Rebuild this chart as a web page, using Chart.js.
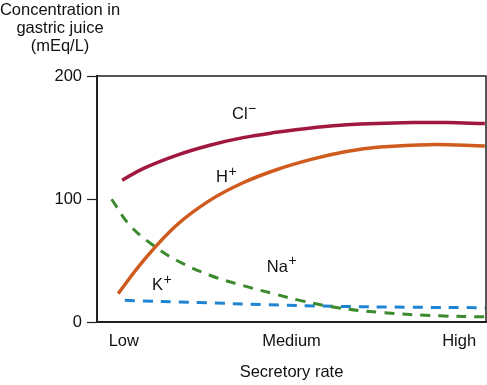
<!DOCTYPE html>
<html>
<head>
<meta charset="utf-8">
<script src="https://cdn.jsdelivr.net/npm/chart.js@4.4.0/dist/chart.umd.min.js"></script>
<style>
  html, body { margin: 0; padding: 0; background: #fff; }
</style>
</head>
<body>
<canvas id="ionChart" width="487" height="385"></canvas>
<script>
const xTickValues = [1, 2, 3];
const xTickLabels = ['Low', 'Medium', 'High'];
const yTickValues = [0, 100, 200];
const yTitleLines = ['Concentration in', 'gastric juice', '(mEq/L)'];
const xTitle = 'Secretory rate';

// series (x: 1 = Low, 2 = Medium, 3 = High)
const clX = [0.99, 1.115, 1.314, 1.513, 1.711, 1.91, 2.129, 2.328, 2.725, 2.924, 3.153];
const clY = [115.2, 124.7, 135.5, 143.7, 149.9, 154.2, 158.0, 160.4, 162.2, 162.1, 161.4];

const hX = [0.966, 1.115, 1.314, 1.513, 1.711, 1.91, 2.129, 2.328, 2.527, 2.825, 3.153];
const hY = [23.1, 49.5, 78.6, 98.9, 113.2, 123.8, 132.6, 138.6, 142.2, 144.2, 143.1];

const naX = [0.927, 1.036, 1.175, 1.314, 1.513, 1.711, 1.91, 2.049, 2.248, 2.527, 2.884, 3.158];
const naY = [99.8, 78.6, 62.4, 50.2, 38.0, 29.6, 22.4, 17.6, 12.2, 7.8, 5.0, 4.2];

const kX = [1.006, 1.453, 1.851, 2.248, 2.7, 3.158];
const kY = [17.6, 15.8, 14.1, 12.8, 12.0, 11.6];

// curve labels
const ionNames = ['Cl', 'H', 'Na', 'K'];
const ionCharges = ['\u2212', '+', '+', '+'];
const ionLabelX = [1.716, 1.61, 1.94, 1.225];
const ionLabelY = [168.5, 117.4, 44.7, 29.8];

const FRAME = '#231f20';
const TEXT = '#111';
const FONT = { family: '"Liberation Sans", Arial, sans-serif', size: 16.5 };

function toPoints(xs, ys) {
  return xs.map((x, i) => ({ x, y: ys[i] }));
}

const annotate = {
  id: 'annotate',
  afterDraw(chart) {
    const { ctx, chartArea, scales } = chart;
    ctx.save();

    // top and right edges of the frame
    ctx.strokeStyle = FRAME;
    ctx.lineWidth = 1.5;
    ctx.beginPath();
    ctx.moveTo(chartArea.left, chartArea.top);
    ctx.lineTo(chartArea.right, chartArea.top);
    ctx.lineTo(chartArea.right, chartArea.bottom);
    ctx.stroke();

    // y title
    ctx.fillStyle = TEXT;
    ctx.textAlign = 'center';
    ctx.textBaseline = 'alphabetic';
    ctx.font = `${FONT.size}px ${FONT.family}`;
    yTitleLines.forEach((line, i) => {
      ctx.fillText(line, 60, 14.5 + i * 18);
    });

    // ion labels with superscript charge
    ionNames.forEach((name, i) => {
      const cx = scales.x.getPixelForValue(ionLabelX[i]);
      const cy = scales.y.getPixelForValue(ionLabelY[i]);
      ctx.font = `${FONT.size}px ${FONT.family}`;
      const baseW = ctx.measureText(name).width;
      ctx.font = `14px ${FONT.family}`;
      const supW = ctx.measureText(ionCharges[i]).width;
      const left = cx - (baseW + supW) / 2;
      ctx.textAlign = 'left';
      ctx.textBaseline = 'middle';
      ctx.font = `${FONT.size}px ${FONT.family}`;
      ctx.fillText(name, left, cy);
      ctx.font = `14px ${FONT.family}`;
      ctx.fillText(ionCharges[i], left + baseW + 0.5, cy - 5.5);
    });

    ctx.restore();
  }
};

const ctx = document.getElementById('ionChart');
new Chart(ctx, {
  type: 'line',
  data: {
    datasets: [
      {
        label: 'Cl-',
        data: toPoints(clX, clY),
        borderColor: '#a0173f',
        borderWidth: 3.5
      },
      {
        label: 'H+',
        data: toPoints(hX, hY),
        borderColor: '#cf5b1c',
        borderWidth: 3.5
      },
      {
        label: 'Na+',
        data: toPoints(naX, naY),
        borderColor: '#3b8a2e',
        borderWidth: 3,
        borderDash: [10, 8]
      },
      {
        label: 'K+',
        data: toPoints(kX, kY),
        borderColor: '#1f85d2',
        borderWidth: 3,
        borderDash: [10, 8]
      }
    ]
  },
  options: {
    responsive: false,
    animation: false,
    layout: {
      padding: { top: 76, right: 1, left: 0, bottom: 0 }
    },
    elements: {
      point: { radius: 0 },
      line: { tension: 0.4, fill: false, borderCapStyle: 'butt' }
    },
    plugins: {
      legend: { display: false },
      tooltip: { enabled: false }
    },
    scales: {
      x: {
        type: 'linear',
        min: 0.84,
        max: 3.16,
        afterBuildTicks: (scale) => {
          scale.ticks = xTickValues.map((v) => ({ value: v }));
        },
        afterFit: (scale) => {
          scale.height = 63;
        },
        ticks: {
          callback: (value, index) => xTickLabels[index],
          padding: 10,
          maxRotation: 0,
          autoSkip: false,
          font: FONT,
          color: TEXT
        },
        grid: { drawOnChartArea: false, drawTicks: false },
        border: { display: true, width: 2, color: FRAME },
        title: {
          display: true,
          text: xTitle,
          font: FONT,
          color: TEXT,
          padding: { top: 0, bottom: 3 }
        }
      },
      y: {
        min: 0,
        max: 200,
        afterBuildTicks: (scale) => {
          scale.ticks = yTickValues.map((v) => ({ value: v }));
        },
        afterFit: (scale) => {
          scale.width = 97;
        },
        ticks: {
          padding: 5,
          font: FONT,
          color: TEXT
        },
        grid: {
          drawOnChartArea: false,
          drawTicks: true,
          tickLength: 10,
          tickColor: FRAME,
          tickWidth: 1.2
        },
        border: { display: true, width: 2, color: FRAME }
      }
    }
  },
  plugins: [annotate]
});
</script>
</body>
</html>
